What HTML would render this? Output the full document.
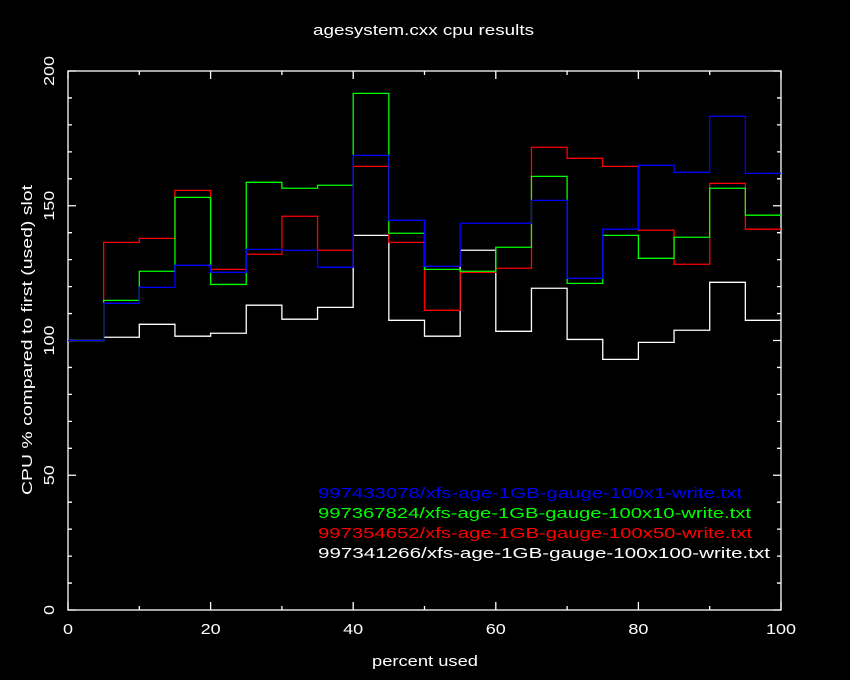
<!DOCTYPE html>
<html><head><meta charset="utf-8"><style>
html,body{margin:0;padding:0;background:#000;}
svg{display:block;}
text{font-family:"Liberation Sans",sans-serif;fill:#fff;font-size:15px;}
</style></head><body>
<svg id="chart" width="850" height="680" xmlns="http://www.w3.org/2000/svg">
<rect width="850" height="680" fill="#000"/>
<text x="313" y="35" textLength="221" lengthAdjust="spacingAndGlyphs">agesystem.cxx cpu results</text>
<text x="372" y="666" textLength="106" lengthAdjust="spacingAndGlyphs">percent used</text>
<text transform="translate(32,495) rotate(-90)" textLength="310" lengthAdjust="spacingAndGlyphs">CPU % compared to first (used) slot</text>
<g id="axes"></g>
<g id="series"></g>
<g id="legend"></g>
</svg>
<script>
const binEdges = [0,5,10,15,20,25,30,35,40,45,50,55,60,65,70,75,80,85,90,95,100];
const seriesNames = ["997433078/xfs-age-1GB-gauge-100x1-write.txt","997367824/xfs-age-1GB-gauge-100x10-write.txt","997354652/xfs-age-1GB-gauge-100x50-write.txt","997341266/xfs-age-1GB-gauge-100x100-write.txt"];
const seriesColors = ["#0000ff","#00ff00","#ff0000","#ffffff"];
const blueValues = [100,113.8,119.7,127.9,125.3,133.8,133.5,127.2,168.7,144.6,127.5,143.5,143.5,152.0,123.1,141.3,165.0,162.4,183.2,162.0];
const greenValues = [100,114.9,125.7,153.1,120.8,158.7,156.5,157.6,191.7,139.8,126.4,125.7,134.6,160.9,121.2,139.0,130.5,138.3,156.5,146.5];
const redValues = [100,136.4,137.9,155.7,126.4,132.0,146.1,133.5,164.6,136.4,111.2,125.3,126.8,171.7,167.6,164.6,140.9,128.3,158.3,141.3];
const whiteValues = [100,101.2,106.0,101.6,102.7,113.1,107.9,112.3,139.0,107.5,101.6,133.5,103.4,119.4,100.4,93.0,99.3,103.8,121.6,107.5];
const xTicks = [0,20,40,60,80,100];
const yTicks = [0,50,100,150,200];

const NS="http://www.w3.org/2000/svg";
const L=68,R=781,T=71,B=610;
const xs=v=>L+(v-0)/(100-0)*(R-L);
const ys=v=>B-(v-0)/(200-0)*(B-T);
function mk(tag,attrs,parent){const e=document.createElementNS(NS,tag);for(const k in attrs)e.setAttribute(k,attrs[k]);parent.appendChild(e);return e;}
const axes=document.getElementById('axes');
const frame=mk('rect',{x:L,y:T,width:R-L,height:B-T,fill:'none',stroke:'#fff','stroke-width':1.3},axes);


let d='';
for(let v=0;v<=100;v+=10){const x=xs(v);const len=(v%20===0)?8:4;d+=`M${x},${B}v${-len}M${x},${T}v${len}`;}
for(let v=0;v<=200;v+=10){const y=ys(v);const len=(v%50===0)?8:4;d+=`M${L},${y}h${len}M${R},${y}h${-len}`;}
const tk=mk('path',{d:d,stroke:'#fff','stroke-width':1.3,fill:'none'},axes);


xTicks.forEach(v=>{const s=String(v);const w=s.length*10;const t=mk('text',{x:xs(v)-w/2,y:B+24,textLength:w,lengthAdjust:'spacingAndGlyphs'},axes);t.textContent=s;

});
yTicks.forEach(v=>{const s=String(v);const w=s.length*10;const t=mk('text',{x:-w/2,y:0,textLength:w,lengthAdjust:'spacingAndGlyphs',transform:`translate(${L-14},${ys(v)}) rotate(-90)`},axes);t.textContent=s;

});

const series=document.getElementById('series');
const allVals=[blueValues,greenValues,redValues,whiteValues];
[3,2,1,0].forEach(i=>{
  const vals=allVals[i];let p=`M${xs(binEdges[0])},${ys(vals[0])}`;
  for(let k=0;k<vals.length;k++){p+=`L${xs(binEdges[k])},${ys(vals[k])}L${xs(binEdges[k+1])},${ys(vals[k])}`;}
  const path=mk('path',{d:p,fill:'none',stroke:seriesColors[i],'stroke-width':1.3},series);
  
  
});
const legend=document.getElementById('legend');
const legendWidths=[424,433,434,452];
seriesNames.forEach((n,i)=>{const t=mk('text',{x:318,y:498+i*20,textLength:legendWidths[i],lengthAdjust:'spacingAndGlyphs',style:'fill:'+seriesColors[i]},legend);t.textContent=n;

});
</script>
</body></html>
